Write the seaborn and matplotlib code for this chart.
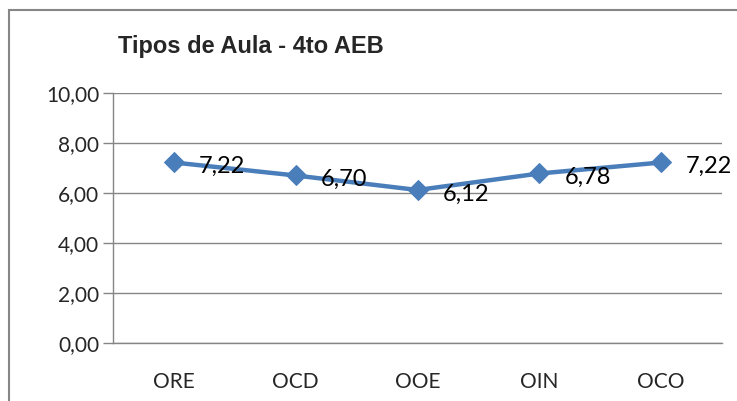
import matplotlib
matplotlib.use("Agg")
import matplotlib.pyplot as plt
import seaborn as sns
import pandas as pd
from matplotlib.patches import Rectangle
from matplotlib.ticker import FixedLocator

categories = ["ORE", "OCD", "OOE", "OIN", "OCO"]
values = [7.22, 6.70, 6.12, 6.78, 7.22]
yticks = [0, 2, 4, 6, 8, 10]
title = "Tipos de Aula - 4to AEB"


def fmt(v):
    return f"{v:.2f}".replace(".", ",")


sns.set_style("white")
plt.rcParams["font.family"] = ["Lato", "DejaVu Sans"]

df = pd.DataFrame({"tipo": categories, "nota": values})

fig = plt.figure(figsize=(7.37, 4.01), dpi=100)
ax = fig.add_axes([0.1533, 0.1446, 0.8264, 0.6235])

grey = "#868686"
blue = "#4A7EBB"

sns.lineplot(data=df, x="tipo", y="nota", ax=ax, color=blue, linewidth=3.2,
             marker="D", markersize=10.5, markeredgecolor=blue, sort=False)

for i, v in enumerate(values):
    ax.annotate(fmt(v), (i, v), xytext=(18, -3), textcoords="offset points",
                ha="left", va="center", fontsize=17, color="black")

ax.set_xlim(-0.5, len(categories) - 0.5)
ax.set_ylim(0, 10)
ax.set_yticks(yticks)
ax.set_yticklabels([fmt(t) for t in yticks], fontsize=15)
ax.set_xticks(range(len(categories)))
ax.set_xticklabels(categories, fontsize=15)
ax.xaxis.set_minor_locator(FixedLocator([i + 0.5 for i in range(-1, len(categories))]))
ax.tick_params(axis="x", which="major", length=0, pad=21)
ax.tick_params(axis="x", which="minor", length=7, width=1, color=grey, direction="out")
ax.tick_params(axis="y", length=7, width=1, color=grey, direction="out", pad=3, left=True)
ax.set_xlabel("")
ax.set_ylabel("")

ax.grid(axis="y", color=grey, linewidth=1)
ax.set_axisbelow(True)
for side in ["top", "right"]:
    ax.spines[side].set_visible(False)
for side in ["left", "bottom"]:
    ax.spines[side].set_color(grey)
    ax.spines[side].set_linewidth(1)

fig.text(118 / 737, 1 - 47 / 401, title, fontsize=17, fontweight="bold",
         family=["Liberation Sans", "DejaVu Sans"], va="center", ha="left")

fig.patches.append(Rectangle((9 / 737, -0.1), 1.2, 1 - 10 / 401 + 0.1,
                             transform=fig.transFigure, fill=False,
                             edgecolor=grey, linewidth=1.5))

fig.savefig("out.png", dpi=100)
